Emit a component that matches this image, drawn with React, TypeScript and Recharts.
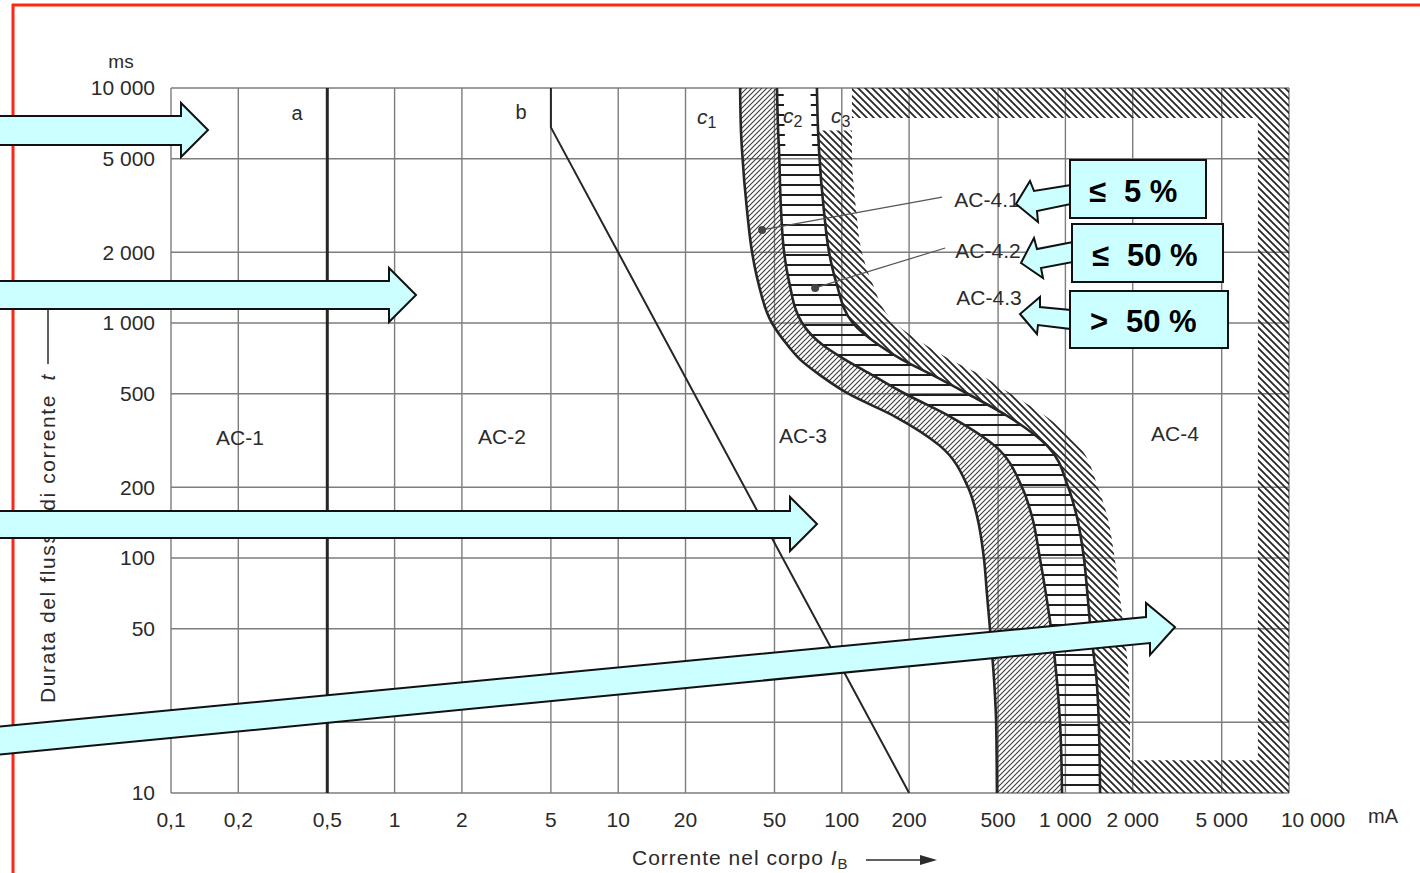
import React from "react";
import { ComposedChart, Area, Line, XAxis, YAxis, CartesianGrid, ReferenceDot, ReferenceLine } from "recharts";

const W = 1420;
const H = 873;
const FONT = "'Liberation Sans', Arial, sans-serif";

const msLevels = [10000, 6600, 5400, 3000, 2000, 1500, 1000, 800, 700, 600, 500, 400, 300, 200, 150, 100, 70, 50, 30, 20, 10];
const c1MA = [35.1, 35.4, 35.8, 37.7, 39.7, 42.2, 48.7, 57.5, 65, 79.9, 107, 173, 275, 367, 403, 432, 446, 460, 480, 490, 494];
const c2MA = [51.3, 51.9, 52.4, 53.5, 55.2, 58.1, 66.4, 83, 103, 137, 192, 305, 484, 640, 709, 769, 819, 863, 917, 946, 966];
const c3MA = [77.4, 78.3, 79.1, 83.2, 87.7, 94.2, 112, 148, 185, 255, 365, 555, 830, 1030, 1125, 1210, 1255, 1295, 1380, 1410, 1429];
const c3OuterMA = [111, 111, 111, 116, 123, 136, 173, 240, 305, 420, 570, 820, 1150, 1400, 1540, 1660, 1750, 1825, 1925, 1945, 1945];

// straight curves a and b
const curveAms = [10000, 10];
const curveAmA = [0.5, 0.5];
const curveBms = [10000, 6800, 10];
const curveBmA = [5, 5, 200];

// hatched frame round the AC-4 zone: [ms from, ms to], [mA from, mA to]
const frameTopMs = [10000, 7450];
const frameTopMA = [111, 10000];
const frameRightMs = [7450, 13.8];
const frameRightMA = [7260, 10000];
const frameBottomMs = [13.8, 10];
const frameBottomMA = [1945, 10000];

// pointer dots of AC-4.1 / AC-4.2 and the ends of their leader lines
const dotMA = [44, 76];
const dotMs = [2490, 1410];
const leaderMA = [281, 290];
const leaderMs = [3435, 2085];

const xTicks = [0.1, 0.2, 0.5, 1, 2, 5, 10, 20, 50, 100, 200, 500, 1000, 2000, 5000, 10000];
const yTicks = [10, 20, 50, 100, 200, 500, 1000, 2000, 5000, 10000];

const fmt = (v: number) => (v < 1 ? String(v).replace(".", ",") : v >= 1000 ? `${v / 1000} 000` : String(v));

const bandRows = msLevels.map((ms, i) => ({ ms, c1: c1MA[i], c2: c2MA[i], c3: c3MA[i], outer: c3OuterMA[i] }));
const horizRows = bandRows.filter((r) => r.ms <= 5400);
const outerRows = bandRows.filter((r) => r.ms <= 6600);
const tickRows = bandRows.filter((r) => r.ms >= 5400);
const frameRows = (ms: number[], mA: number[]) => ms.map((m) => ({ ms: m, lo: mA[0], hi: mA[1] }));
const lineRows = (ms: number[], mA: number[]) => ms.map((m, i) => ({ ms: m, mA: mA[i] }));

const XTick = (props: any) => {
    const { x, y, payload } = props;
    const shift = payload.value === 10000 ? 24 : 0;
    return (
        <text x={x + shift} y={y} dy="0.71em" textAnchor="middle" fontSize={21} fill="#2a2a2a" fontFamily={FONT}>
            {fmt(payload.value)}
        </text>
    );
};

const Hatches = () => (
    <svg width={0} height={0} style={{ position: "absolute" }}>
        <defs>
            <pattern id="hatchFwd" patternUnits="userSpaceOnUse" width={5} height={5}>
                <path d="M-1,1 L1,-1 M0,5 L5,0 M4,6 L6,4" stroke="#3a3a3a" strokeWidth={1.1} />
            </pattern>
            <pattern id="hatchBack" patternUnits="userSpaceOnUse" width={7} height={7}>
                <path d="M-1,-1 L8,8 M-1,6 L1,8 M6,-1 L8,1" stroke="#262626" strokeWidth={1.8} />
            </pattern>
            <pattern id="hatchHoriz" patternUnits="userSpaceOnUse" width={10} height={10}>
                <line x1={0} x2={10} y1={5} y2={5} stroke="#1e1e1e" strokeWidth={2} />
            </pattern>
        </defs>
    </svg>
);

const arrow = (pts: number[][]) => pts.map((p) => p.join(",")).join(" ");

const Overlay = () => (
    <svg width={W} height={H} style={{ position: "absolute", left: 0, top: 0, pointerEvents: "none" }} fontFamily={FONT}>
        <line x1={12} y1={5} x2={W} y2={5} stroke="#ff2414" strokeWidth={3} />
        <line x1={13} y1={4} x2={13} y2={H} stroke="#ff2414" strokeWidth={3} />

        <g fill="#2b2b2b">
            <text x={121} y={68} fontSize={19} textAnchor="middle">ms</text>
            <text x={1383} y={823} fontSize={20} textAnchor="middle">mA</text>
            <text x={297} y={120} fontSize={20} textAnchor="middle">a</text>
            <text x={521} y={119} fontSize={20} textAnchor="middle">b</text>
            <text x={697} y={124} fontSize={21} fontStyle="italic">c<tspan fontSize={16} fontStyle="normal" dy={4}>1</tspan></text>
            <text x={783} y={123} fontSize={21} fontStyle="italic">c<tspan fontSize={16} fontStyle="normal" dy={4}>2</tspan></text>
            <text x={831} y={123} fontSize={21} fontStyle="italic">c<tspan fontSize={16} fontStyle="normal" dy={4}>3</tspan></text>
            <text x={240} y={445} fontSize={21} textAnchor="middle">AC-1</text>
            <text x={502} y={444} fontSize={21} textAnchor="middle">AC-2</text>
            <text x={803} y={443} fontSize={21} textAnchor="middle">AC-3</text>
            <text x={1175} y={441} fontSize={21} textAnchor="middle">AC-4</text>
            <text x={987} y={207} fontSize={21} textAnchor="middle">AC-4.1</text>
            <text x={988} y={258} fontSize={21} textAnchor="middle">AC-4.2</text>
            <text x={989} y={305} fontSize={21} textAnchor="middle">AC-4.3</text>
            <text x={632} y={865} fontSize={21} letterSpacing={1}>
                Corrente nel corpo <tspan fontStyle="italic">I</tspan>
                <tspan fontSize={15} dy={4}>B</tspan>
            </text>
            <text transform="translate(55,703) rotate(-90)" fontSize={21} letterSpacing={1.6}>
                Durata del flusso di corrente <tspan fontStyle="italic" dx={6}>t</tspan>
            </text>
        </g>
        <line x1={866} y1={860} x2={922} y2={860} stroke="#2b2b2b" strokeWidth={1.5} />
        <polygon points="920,855 937,860 920,865" fill="#2b2b2b" />
        <line x1={48} y1={364} x2={48} y2={300} stroke="#2b2b2b" strokeWidth={1.5} />

        <g fill="#ccffff" stroke="#111" strokeWidth={2} strokeLinejoin="miter">
            <polygon points={arrow([[-5, 116], [181, 116], [181, 103], [208, 130], [181, 157], [181, 145], [-5, 145]])} />
            <polygon points={arrow([[-5, 281], [389, 281], [389, 268], [416, 295], [389, 322], [389, 309], [-5, 309]])} />
            <polygon points={arrow([[-5, 511], [790, 511], [790, 497], [817, 524], [790, 551], [790, 538], [-5, 538]])} />
            <polygon points={arrow([[-5, 727], [1146, 617], [1146, 603], [1175, 627], [1150, 655], [1150, 643], [-5, 755]])} />

            <polygon points={arrow([[1071, 185], [1034, 191], [1030, 181], [1016, 204], [1038, 222], [1037, 211], [1071, 204]])} />
            <polygon points={arrow([[1073, 242], [1037, 249], [1034, 238], [1021, 263], [1043, 278], [1041, 268], [1073, 262]])} />
            <polygon points={arrow([[1071, 310], [1040, 307], [1040, 297], [1020, 314], [1037, 334], [1038, 325], [1071, 329]])} />

            <rect x={1070} y={160} width={136} height={58} />
            <rect x={1072} y={224} width={151} height={58} />
            <rect x={1070} y={291} width={158} height={57} />
        </g>
        <g fill="#000" fontSize={31} fontWeight="bold">
            <text x={1089} y={202}>≤</text>
            <text x={1124} y={202}>5 %</text>
            <text x={1092} y={266}>≤</text>
            <text x={1127} y={266}>50 %</text>
            <text x={1090} y={332}>&gt;</text>
            <text x={1126} y={332}>50 %</text>
        </g>
    </svg>
);

export default function App() {
    return (
        <div style={{ position: "absolute", left: 0, top: 0, width: W, height: H, background: "#fff" }}>
            <Hatches />
            <ComposedChart
                width={W}
                height={H}
                layout="vertical"
                margin={{ top: 88, right: 131, bottom: 40, left: 91 }}
            >
                <CartesianGrid stroke="#7d7d7d" strokeWidth={1.4} />
                <XAxis
                    type="number"
                    dataKey="mA"
                    scale="log"
                    domain={[0.1, 10000]}
                    ticks={xTicks}
                    interval={0}
                    allowDataOverflow
                    axisLine={false}
                    tickLine={false}
                    tickSize={6}
                    tickMargin={13}
                    height={40}
                    tick={<XTick />}
                />
                <YAxis
                    type="number"
                    dataKey="ms"
                    scale="log"
                    reversed
                    domain={[10, 10000]}
                    ticks={yTicks}
                    interval={0}
                    allowDataOverflow
                    axisLine={false}
                    tickLine={false}
                    tickSize={6}
                    tickMargin={10}
                    width={80}
                    tickFormatter={fmt}
                    tick={{ fontSize: 21, fill: "#2a2a2a", fontFamily: FONT }}
                />

                <Area data={bandRows} dataKey={(d: any) => [d.c1, d.c2]} type="monotone" fill="url(#hatchFwd)" fillOpacity={1} stroke="none" isAnimationActive={false} />
                <Area data={horizRows} dataKey={(d: any) => [d.c2, d.c3]} type="monotone" fill="url(#hatchHoriz)" fillOpacity={1} stroke="none" isAnimationActive={false} />
                <Area data={tickRows} dataKey={(d: any) => [d.c2, d.c2 * 1.07]} type="linear" fill="url(#hatchHoriz)" fillOpacity={1} stroke="none" isAnimationActive={false} />
                <Area data={tickRows} dataKey={(d: any) => [d.c3 / 1.07, d.c3]} type="linear" fill="url(#hatchHoriz)" fillOpacity={1} stroke="none" isAnimationActive={false} />
                <Area data={outerRows} dataKey={(d: any) => [d.c3, d.outer]} type="monotone" fill="url(#hatchBack)" fillOpacity={1} stroke="none" isAnimationActive={false} />
                <Area data={frameRows(frameTopMs, frameTopMA)} dataKey={(d: any) => [d.lo, d.hi]} type="linear" fill="url(#hatchBack)" fillOpacity={1} stroke="none" isAnimationActive={false} />
                <Area data={frameRows(frameRightMs, frameRightMA)} dataKey={(d: any) => [d.lo, d.hi]} type="linear" fill="url(#hatchBack)" fillOpacity={1} stroke="none" isAnimationActive={false} />
                <Area data={frameRows(frameBottomMs, frameBottomMA)} dataKey={(d: any) => [d.lo, d.hi]} type="linear" fill="url(#hatchBack)" fillOpacity={1} stroke="none" isAnimationActive={false} />

                <Line data={lineRows(curveAms, curveAmA)} dataKey="mA" type="linear" stroke="#262626" strokeWidth={3} dot={false} isAnimationActive={false} />
                <Line data={lineRows(curveBms, curveBmA)} dataKey="mA" type="linear" stroke="#262626" strokeWidth={2} dot={false} isAnimationActive={false} />
                <Line data={bandRows} dataKey="c1" type="monotone" stroke="#262626" strokeWidth={2.6} dot={false} isAnimationActive={false} />
                <Line data={bandRows} dataKey="c2" type="monotone" stroke="#262626" strokeWidth={2.6} dot={false} isAnimationActive={false} />
                <Line data={bandRows} dataKey="c3" type="monotone" stroke="#262626" strokeWidth={2.6} dot={false} isAnimationActive={false} />

                {dotMA.map((m, i) => (
                    <ReferenceLine
                        key={`l${i}`}
                        segment={[{ x: m, y: dotMs[i] }, { x: leaderMA[i], y: leaderMs[i] }]}
                        stroke="#555"
                        strokeWidth={1.2}
                    />
                ))}
                {dotMA.map((m, i) => (
                    <ReferenceDot key={`d${i}`} x={m} y={dotMs[i]} r={4} fill="#444" stroke="none" />
                ))}
            </ComposedChart>
            <Overlay />
        </div>
    );
}
